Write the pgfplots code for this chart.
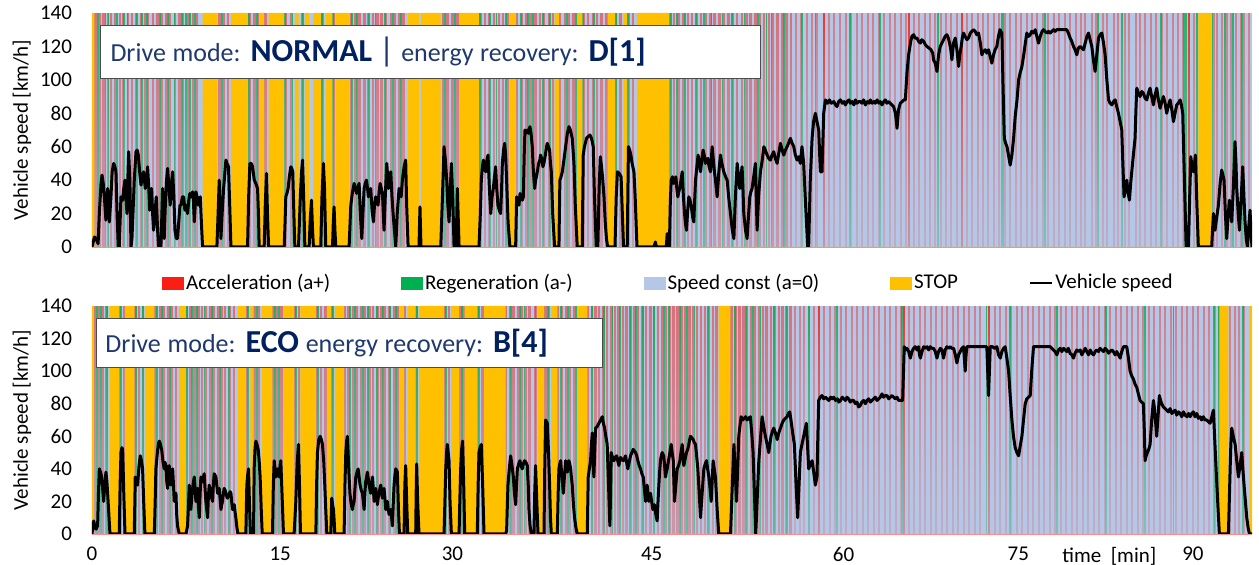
\documentclass[border=0pt]{standalone}
\usepackage{fontspec}
\setmainfont{Carlito}
\usepackage{pgfplots}
\usepackage{pgfplotstable}
\pgfplotsset{compat=1.18}
\usetikzlibrary{fadings}

\definecolor{accred}{RGB}{250,30,20}
\definecolor{reggreen}{RGB}{0,176,80}
\definecolor{cstblue}{RGB}{180,199,231}
\definecolor{stoporange}{RGB}{255,192,0}
\definecolor{navy}{RGB}{0,32,96}
\definecolor{navylight}{RGB}{31,56,110}

\tikzfading[name=fadeup, top color=transparent!100, bottom color=transparent!0]

% speed, top chart (NORMAL / D[1])
\pgfplotstableread{
t v
0 0
0.1 3
0.2 6
0.33 5
0.5 2
0.6 20
0.74 38
0.82 43
0.92 38
1.01 30
1.14 16
1.28 35
1.35 28
1.42 15
1.55 30
1.65 45
1.77 50
1.88 48
1.96 45
2.05 20
2.15 0
2.23 0
2.37 30
2.51 28
2.6 35
2.7 40
2.78 30
2.86 20
2.93 40
3.0 57
3.1 40
3.19 0
3.27 5
3.38 25
3.46 40
3.6 57
3.7 58
3.79 55
3.9 45
4.01 37
4.1 42
4.22 45
4.36 35
4.45 38
4.55 48
4.65 35
4.72 22
4.8 30
4.88 35
4.96 20
5.04 10
5.15 20
5.26 30
5.37 10
5.45 0
5.64 0
5.78 35
5.85 20
5.91 5
6.0 25
6.1 40
6.19 47
6.3 35
6.4 25
6.5 38
6.6 45
6.7 30
6.79 10
6.9 5
7.0 5
7.1 15
7.2 25
7.28 25
7.4 30
7.5 30
7.6 22
7.69 25
7.82 20
7.92 28
8.01 32
8.12 30
8.23 33
8.3 28
8.37 15
8.45 25
8.5 33
8.6 30
8.69 25
8.78 28
8.86 30
8.95 15
9.05 0
10.22 0
10.32 20
10.41 40
10.5 20
10.55 5
10.65 20
10.77 35
10.88 45
10.96 52
11.05 50
11.17 48
11.27 25
11.37 0
12.73 0
12.82 30
12.92 50
13.03 50
13.14 48
13.28 40
13.41 38
13.55 35
13.62 20
13.68 0
14.09 0
14.18 25
14.28 44
14.36 20
14.45 0
15.73 0
15.8 15
15.86 30
15.95 32
16.05 35
16.15 42
16.27 48
16.35 47
16.43 45
16.52 20
16.6 0
16.9 0
17.05 30
17.15 45
17.23 52
17.32 30
17.42 0
17.77 0
17.85 15
17.96 28
18.05 10
18.12 0
18.72 0
18.82 30
18.94 50
19.03 35
19.13 0
19.68 0
19.75 15
19.81 24
19.88 10
19.95 0
21.04 0
21.18 25
21.3 32
21.45 38
21.55 35
21.67 32
21.76 36
21.86 38
21.96 20
22.08 5
22.17 20
22.27 35
22.36 38
22.46 40
22.55 35
22.62 30
22.72 33
22.81 35
22.92 22
23.03 15
23.12 25
23.22 30
23.32 28
23.41 25
23.5 33
23.58 38
23.68 35
23.77 32
23.84 20
23.9 10
24.0 30
24.12 50
24.2 42
24.26 35
24.36 40
24.45 45
24.55 30
24.64 20
24.75 10
24.86 0
24.98 20
25.13 35
25.3 30
25.4 40
25.54 48
25.67 52
25.75 25
25.87 0
26.76 0
26.84 24
26.92 0
28.54 0
28.68 30
28.81 60
28.92 52
29.03 40
29.12 25
29.22 15
29.32 35
29.41 50
29.52 30
29.63 0
29.8 0
29.9 35
30.0 10
30.04 0
31.67 0
31.78 20
31.86 40
31.95 48
32.03 52
32.12 48
32.22 45
32.32 52
32.41 55
32.52 35
32.63 20
32.74 30
32.84 35
32.94 42
33.03 48
33.12 35
33.22 25
33.33 22
33.44 20
33.52 35
33.58 50
33.68 58
33.77 62
33.85 55
33.93 40
34.05 15
34.2 0
34.67 0
34.75 30
34.85 28
34.94 25
35.03 32
35.13 30
35.22 28
35.3 30
35.37 55
35.43 70
35.52 68
35.62 70
35.72 68
35.84 72
35.93 68
36.03 60
36.1 48
36.17 40
36.23 35
36.3 40
36.37 42
36.44 45
36.55 50
36.65 52
36.71 55
36.8 53
36.9 48
36.98 50
37.1 55
37.2 60
37.26 62
37.35 60
37.45 58
37.52 50
37.59 45
37.7 20
37.86 0
38.21 0
38.29 40
38.38 42
38.49 45
38.62 52
38.76 60
38.9 68
39.03 72
39.15 70
39.3 65
39.37 58
39.44 50
39.55 25
39.71 0
40.12 0
40.2 55
40.3 60
40.47 65
40.6 66
40.75 67
40.88 65
41.02 60
41.12 30
41.27 0
41.4 0
41.5 35
41.6 54
41.7 48
41.8 40
41.9 30
42.0 15
42.1 5
42.2 0
42.8 0
42.9 30
43.0 45
43.15 44
43.3 42
43.4 20
43.5 0
43.8 0
43.9 60
44.0 58
44.1 55
44.2 50
44.35 45
44.45 30
44.5 20
44.6 0
46.0 0
46.1 3
46.2 0
47.0 0
47.07 8
47.15 0
47.25 0
47.32 25
47.4 40
47.5 42
47.62 38
47.7 40
47.78 42
47.86 35
47.94 30
48.02 33
48.1 35
48.2 40
48.3 45
48.4 30
48.49 20
48.57 14
48.65 10
48.75 22
48.84 30
48.94 28
49.03 25
49.15 18
49.25 15
49.32 28
49.39 40
49.5 48
49.6 55
49.7 50
49.8 45
49.9 52
50.01 58
50.1 55
50.2 50
50.3 52
50.4 53
50.5 48
50.61 45
50.68 52
50.75 60
50.85 52
50.94 45
51.05 38
51.16 30
51.3 45
51.43 55
51.55 50
51.7 45
51.85 42
51.98 40
52.1 30
52.25 20
52.4 10
52.53 5
52.65 30
52.8 50
52.9 42
53.01 35
53.1 42
53.2 48
53.27 35
53.34 20
53.48 10
53.61 5
53.72 18
53.83 30
53.92 33
54.02 35
54.15 42
54.29 50
54.36 30
54.43 10
54.55 30
54.7 45
54.85 52
54.98 60
55.1 58
55.25 55
55.38 53
55.52 52
55.65 55
55.79 57
55.92 53
56.07 50
56.2 56
56.34 62
56.48 58
56.61 55
56.75 58
56.88 60
57.0 62
57.15 65
57.3 62
57.43 60
57.56 55
57.7 52
57.83 54
57.97 50
58.1 60
58.24 50
58.4 25
58.57 0
58.65 0
58.78 40
58.93 65
59.05 75
59.2 80
59.33 75
59.47 70
59.55 55
59.61 45
59.74 45
59.82 65
59.88 80
60.02 88
60.2 86
60.35 88
60.5 86
60.7 87
60.85 85
60.97 84
61.1 87
61.25 88
61.4 86
61.55 87
61.65 85
61.8 87
61.95 88
62.06 86
62.2 87
62.35 85
62.47 88
62.6 86
62.75 87
62.88 87
63.0 86
63.15 88
63.29 85
63.45 87
63.6 86
63.7 88
63.85 86
64.0 87
64.1 86
64.25 88
64.4 86
64.51 87
64.65 85
64.8 87
64.92 88
65.05 86
65.2 87
65.33 86
65.45 85
65.6 84
65.75 80
65.88 71
66.0 82
66.15 86
66.3 87
66.45 88
66.56 88
66.7 105
66.83 115
67.0 123
67.1 126
67.24 127
67.35 125
67.51 125
67.65 123
67.79 122
67.9 124
68.06 123
68.2 121
68.33 120
68.5 119
68.66 118
68.8 116
68.87 112
69.0 110
69.15 105
69.28 115
69.42 120
69.55 122
69.69 124
69.82 126
69.96 127
70.08 125
70.18 122
70.28 118
70.37 112
70.5 122
70.65 125
70.78 118
70.92 108
71.02 115
71.13 120
71.22 125
71.32 128
71.45 126
71.6 124
71.73 125
71.88 128
72.0 129
72.14 130
72.28 129
72.4 127
72.55 128
72.7 122
72.82 115
72.95 117
73.1 118
73.23 116
73.37 118
73.5 114
73.64 110
73.78 115
73.9 118
74.05 120
74.18 126
74.3 130
74.46 128
74.56 95
74.66 65
74.77 62
74.88 60
75.0 55
75.14 49
75.28 55
75.42 65
75.55 78
75.7 88
75.83 100
75.95 104
76.1 108
76.25 115
76.38 122
76.5 128
76.64 126
76.78 127
76.9 129
77.05 128
77.19 130
77.32 126
77.46 122
77.6 126
77.75 129
77.87 130
78.0 129
78.15 128
78.28 129
78.41 128
78.55 129
78.7 130
78.82 129
78.96 130
79.1 130
79.3 130
79.5 130
79.65 130
79.77 130
79.9 128
80.05 125
80.18 123
80.32 120
80.45 118
80.59 115
80.72 119
80.87 120
81.0 119
81.14 118
81.28 122
81.42 126
81.55 128
81.68 124
81.82 120
81.95 112
82.09 105
82.23 115
82.37 125
82.5 127
82.64 128
82.78 122
82.91 115
83.05 100
83.19 88
83.32 86
83.46 85
83.6 87
83.73 88
83.86 84
84.0 80
84.14 75
84.27 70
84.36 50
84.46 30
84.58 35
84.68 40
84.8 32
84.9 28
85.0 38
85.09 45
85.22 55
85.36 65
85.43 82
85.5 95
85.63 92
85.77 90
85.9 93
86.04 92
86.18 89
86.32 88
86.45 92
86.59 95
86.72 90
86.86 85
87.0 91
87.13 95
87.27 88
87.41 83
87.55 87
87.68 90
87.82 86
87.95 80
88.1 85
88.23 88
88.37 82
88.5 75
88.63 80
88.77 85
88.9 86
89.05 88
89.15 85
89.26 80
89.4 40
89.54 0
89.73 0
89.83 30
89.92 54
90.03 48
90.13 45
90.22 50
90.3 55
90.42 25
90.54 0
91.63 0
91.77 20
91.9 10
92.05 18
92.18 25
92.32 38
92.45 46
92.55 43
92.64 40
92.75 20
92.86 5
92.97 18
93.08 28
93.18 22
93.27 15
93.4 35
93.54 63
93.62 50
93.68 35
93.8 20
93.9 10
94.05 30
94.17 48
94.27 30
94.36 15
94.46 5
94.55 0
94.66 12
94.77 22
94.85 8
94.93 0
}\speedtop

% speed, bottom chart (ECO / B[4])
\pgfplotstableread{
t v
0 0
0.08 5
0.14 8
0.25 4
0.33 3
0.46 5
0.53 25
0.6 40
0.7 38
0.79 35
0.87 28
0.95 20
1.05 30
1.14 38
1.22 32
1.28 25
1.38 12
1.47 0
2.23 0
2.3 30
2.37 50
2.45 53
2.51 52
2.6 25
2.7 0
3.46 0
3.54 35
3.63 33
3.73 30
3.85 42
3.95 48
4.05 45
4.14 40
4.23 20
4.33 0
5.1 0
5.17 20
5.23 40
5.35 50
5.45 56
5.51 57
5.6 55
5.7 52
5.8 45
5.91 40
5.98 44
6.05 42
6.12 32
6.19 28
6.25 38
6.32 42
6.4 35
6.46 30
6.53 38
6.6 40
6.67 30
6.73 20
6.8 24
6.87 25
6.93 12
7.0 5
7.14 0
7.69 0
7.82 5
7.9 18
7.96 30
8.02 22
8.09 15
8.16 22
8.23 28
8.3 32
8.37 35
8.44 28
8.5 20
8.57 24
8.64 28
8.7 18
8.78 10
8.85 25
8.91 35
8.98 33
9.05 32
9.12 35
9.18 37
9.25 28
9.32 20
9.4 14
9.46 10
9.52 22
9.59 30
9.66 28
9.73 25
9.8 22
9.87 20
9.93 30
10.0 37
10.07 36
10.14 35
10.21 30
10.28 25
10.35 27
10.41 28
10.48 22
10.55 15
10.62 18
10.68 20
10.75 25
10.82 28
10.89 27
10.96 25
11.03 23
11.09 22
11.2 24
11.3 26
11.37 25
11.43 20
11.5 15
11.57 16
11.64 18
11.7 14
11.77 10
11.86 4
11.94 0
12.59 0
12.67 30
12.74 36
12.81 40
12.88 20
12.97 0
13.22 0
13.27 40
13.34 52
13.41 57
13.5 55
13.6 52
13.68 45
13.76 35
13.85 15
13.93 0
14.77 0
14.84 30
14.91 45
14.98 40
15.04 35
15.11 38
15.18 40
15.25 37
15.32 35
15.39 42
15.45 45
15.55 25
15.67 0
16.54 0
16.61 10
16.68 20
16.8 45
16.9 55
16.98 30
17.06 0
18.32 0
18.38 30
18.45 50
18.56 58
18.67 60
18.77 58
18.86 55
18.96 45
19.05 30
19.13 15
19.22 0
19.54 0
19.62 22
19.69 18
19.76 15
19.82 8
19.87 0
20.63 0
20.7 30
20.77 50
20.84 57
20.9 60
20.97 48
21.04 35
21.11 25
21.18 20
21.25 17
21.31 15
21.38 18
21.45 20
21.52 28
21.59 35
21.69 38
21.78 40
21.86 35
21.94 30
22.03 27
22.13 25
22.2 20
22.27 15
22.33 25
22.4 32
22.47 35
22.54 38
22.61 34
22.68 30
22.75 27
22.81 25
22.88 30
22.95 35
23.02 28
23.09 20
23.15 24
23.22 28
23.29 22
23.36 18
23.42 22
23.49 25
23.56 28
23.63 30
23.7 26
23.77 22
23.84 25
23.9 28
23.97 22
24.04 15
24.11 18
24.18 20
24.25 15
24.31 12
24.38 14
24.45 15
24.52 10
24.58 5
24.65 18
24.72 30
24.79 36
24.86 40
24.93 39
24.99 38
25.08 15
25.16 0
25.54 0
25.6 30
25.67 42
25.75 20
25.84 0
26.49 0
26.53 25
26.57 43
26.65 20
26.76 0
28.81 0
28.88 20
28.95 40
29.02 50
29.08 55
29.15 50
29.22 45
29.3 20
29.41 0
30.04 0
30.1 20
30.17 40
30.25 52
30.33 57
30.42 30
30.5 0
31.53 0
31.6 30
31.67 50
31.76 53
31.86 55
31.97 30
32.08 0
33.85 0
33.93 2
34.04 30
34.15 40
34.26 48
34.37 42
34.48 35
34.57 25
34.67 18
34.74 30
34.81 40
34.92 43
35.02 45
35.11 42
35.21 40
35.3 43
35.4 45
35.51 44
35.62 42
35.7 30
35.76 15
35.85 5
35.95 0
36.17 0
36.23 25
36.3 42
36.4 20
36.5 0
36.99 0
37.05 40
37.12 70
37.19 69
37.26 68
37.36 50
37.45 30
37.52 10
37.59 0
38.08 0
38.15 25
38.21 40
38.28 43
38.35 45
38.46 35
38.57 25
38.66 35
38.76 45
38.83 42
38.9 38
38.96 42
39.03 45
39.1 43
39.17 40
39.23 35
39.3 30
39.4 18
39.49 10
39.6 4
39.71 0
40.53 0
40.61 35
40.7 40
40.8 45
40.87 55
40.94 62
41.0 48
41.07 35
41.14 50
41.21 65
41.35 66
41.48 68
41.62 70
41.76 72
41.85 68
41.95 65
42.05 60
42.16 55
42.27 30
42.38 5
42.44 25
42.49 50
42.6 47
42.71 45
42.82 47
42.93 48
43.02 45
43.12 42
43.18 45
43.25 47
43.36 46
43.47 45
43.56 46
43.66 48
43.75 44
43.85 40
43.96 44
44.07 48
44.18 50
44.29 52
44.38 51
44.48 50
44.58 48
44.67 45
44.78 42
44.89 40
45.0 37
45.11 35
45.2 28
45.3 20
45.37 25
45.43 30
45.5 25
45.57 20
45.64 22
45.71 25
45.8 20
45.9 15
45.96 16
46.03 18
46.14 12
46.25 8
46.32 20
46.39 30
46.45 38
46.52 45
46.59 48
46.66 50
46.72 49
46.79 48
46.86 42
46.93 35
47.0 38
47.07 40
47.18 45
47.29 50
47.35 53
47.4 55
47.48 50
47.57 45
47.62 32
47.67 20
47.78 30
47.89 40
48.0 42
48.11 45
48.2 50
48.3 55
48.36 48
48.43 42
48.54 46
48.65 50
48.75 52
48.84 55
48.91 58
48.98 60
49.09 59
49.2 58
49.3 56
49.39 55
49.48 48
49.58 40
49.69 25
49.8 10
49.93 25
50.07 40
50.18 43
50.29 45
50.38 40
50.48 35
50.58 28
50.67 20
50.75 32
50.83 45
50.92 40
51.02 35
51.09 25
51.16 15
51.22 8
51.29 0
52.25 0
52.4 30
52.53 55
52.64 38
52.74 20
52.84 40
52.93 60
53.02 66
53.12 72
53.25 70
53.37 71
53.49 72
53.61 70
53.74 71
53.88 72
53.99 62
54.1 50
54.21 25
54.32 0
54.44 22
54.57 45
54.7 58
54.84 72
54.97 66
55.11 60
55.25 55
55.38 50
55.47 55
55.57 60
55.68 63
55.79 65
55.93 62
56.07 58
56.2 62
56.34 65
56.48 68
56.61 70
56.75 71
56.88 72
56.99 74
57.1 75
57.2 70
57.29 65
57.38 60
57.48 55
57.62 30
57.75 10
57.86 30
57.97 50
58.1 55
58.24 60
58.35 64
58.46 68
58.55 55
58.65 40
58.8 43
58.93 45
59.06 38
59.2 30
59.27 33
59.33 35
59.4 60
59.47 82
59.6 84
59.74 85
59.88 83
60.02 84
60.15 83
60.3 82
60.45 84
60.58 83
60.7 84
60.85 82
61.0 83
61.12 81
61.25 82
61.4 84
61.52 83
61.65 82
61.79 84
61.92 83
62.05 81
62.2 82
62.33 82
62.47 80
62.6 81
62.74 78
62.88 79
63.0 81
63.15 82
63.29 80
63.42 82
63.56 83
63.7 81
63.83 82
63.97 83
64.1 84
64.24 82
64.38 83
64.51 84
64.65 86
64.78 84
64.92 85
65.06 85
65.2 83
65.33 84
65.47 85
65.6 84
65.74 83
65.88 84
66.01 82
66.15 82
66.34 82
66.47 115
66.58 113
66.69 114
66.83 112
66.97 108
67.1 112
67.24 114
67.38 115
67.51 113
67.65 115
67.72 110
67.79 108
67.92 112
68.06 115
68.2 114
68.33 115
68.47 113
68.6 115
68.74 114
68.87 114
69.01 112
69.15 108
69.28 112
69.42 114
69.55 113
69.69 108
69.82 113
69.96 115
70.1 114
70.24 115
70.37 114
70.51 114
70.65 110
70.78 105
70.92 110
71.05 112
71.18 114
71.32 115
71.39 108
71.46 100
71.53 110
71.6 115
71.8 115
72.0 115
72.2 115
72.4 115
72.6 115
72.8 115
73.0 115
73.23 115
73.3 100
73.37 85
73.44 100
73.51 115
73.7 115
73.85 114
74.05 115
74.19 110
74.33 108
74.46 112
74.6 114
74.73 115
74.87 108
75.01 100
75.14 85
75.28 70
75.41 60
75.55 53
75.69 50
75.83 48
75.96 54
76.1 60
76.23 70
76.37 80
76.5 83
76.64 84
76.78 85
76.9 100
77.05 115
77.3 115
77.6 115
77.9 115
78.15 115
78.41 115
78.55 114
78.69 113
78.82 112
78.96 110
79.1 113
79.24 114
79.37 112
79.51 114
79.64 113
79.77 112
79.9 114
80.04 111
80.18 110
80.32 108
80.45 111
80.59 113
80.73 112
80.87 113
81.0 110
81.14 112
81.28 114
81.41 112
81.55 110
81.69 113
81.82 111
81.96 110
82.1 112
82.23 113
82.37 112
82.5 114
82.64 113
82.78 112
82.91 114
83.05 113
83.19 111
83.32 112
83.46 113
83.59 112
83.73 110
83.87 112
84.0 110
84.14 108
84.27 112
84.41 115
84.55 115
84.68 115
84.82 108
84.95 100
85.09 97
85.23 95
85.36 92
85.5 90
85.63 86
85.77 82
85.9 81
86.04 80
86.11 65
86.18 45
86.27 48
86.37 50
86.48 52
86.59 55
86.72 70
86.86 82
86.93 78
87.0 72
87.07 66
87.13 60
87.24 72
87.35 85
87.45 82
87.54 80
87.68 78
87.82 77
87.95 76
88.09 75
88.23 77
88.37 74
88.5 75
88.64 76
88.77 73
88.91 75
89.05 74
89.18 72
89.32 75
89.46 73
89.6 72
89.73 74
89.87 72
90.0 74
90.13 75
90.27 72
90.41 74
90.54 71
90.68 72
90.81 70
90.95 72
91.08 70
91.22 70
91.36 69
91.5 68
91.64 72
91.77 76
91.88 58
91.99 40
92.12 20
92.26 0
93.0 0
93.07 20
93.14 40
93.2 55
93.27 65
93.4 60
93.55 55
93.68 45
93.82 35
93.95 42
94.09 50
94.18 40
94.28 30
94.39 20
94.5 10
94.61 4
94.72 0
94.93 0
}\speedbot

\pgfplotsset{
  speedaxis/.style={
    scale only axis, width=580pt,
    xmin=0, xmax=94.93, ymin=0, ymax=140,
    ytick={0,20,...,140},
    axis x line*=bottom, axis y line*=left,
    x axis line style={draw=red!45, line width=0.7pt, -},
    y axis line style={draw=none},
    tick style={draw=none},
    /pgf/number format/assume math mode=true,
    tick label style={font=\fontsize{10.5}{12}\selectfont},
    yticklabel style={xshift=-6.5pt},
    ylabel={Vehicle speed [km/h]},
    ylabel style={font=\fontsize{10.5}{12}\selectfont, at={(axis description cs:-0.0603,0.5)}, anchor=center},
  },
  accstripes/.style={ycomb, no markers, draw=accred, line width=1.2pt, draw opacity=0.5, forget plot},
  acclight/.style={ycomb, no markers, draw=accred, line width=1pt, draw opacity=0.42, forget plot},
  accstrong/.style={ycomb, no markers, draw=accred, line width=1pt, draw opacity=0.85, forget plot},
  regstripes/.style={ycomb, no markers, draw=reggreen, line width=0.9pt, draw opacity=0.8, forget plot},
  stopblocks/.style={const plot, draw=none, fill=stoporange, forget plot},
  basefill/.style={draw=none, fill=cstblue, forget plot},
  fadefill/.style={draw=none, fill=cstblue, fill opacity=0.45, path fading=fadeup, forget plot},
  fadelate/.style={draw=none, fill=cstblue, fill opacity=0.35, path fading=fadeup, forget plot},
  speedline/.style={black, line width=1.5pt, line join=round, no markers, forget plot},
}

\begin{document}
\begin{tikzpicture}
\useasboundingbox (0,0) rectangle (629.5pt,282.5pt);

% ---------------- top chart ----------------
\begin{axis}[speedaxis, height=117pt, at={(46pt,159pt)}, anchor=south west, xtick=\empty]
\addplot[basefill] coordinates {(0,140) (94.93,140)} \closedcycle;
\addplot[accstripes] coordinates {
(0.3,140)(0.65,140)(0.95,140)(1.3,140)(1.55,140)(1.9,140)(2.3,140)(2.55,140)(2.95,140)(3.25,140)
(3.6,140)(4.0,140)(4.35,140)(4.6,140)(5.0,140)(5.35,140)(5.7,140)(6.05,140)(6.35,140)(6.8,140)
(7.15,140)(7.45,140)(7.9,140)(8.25,140)(8.6,140)(10.45,140)(10.8,140)(11.15,140)(12.9,140)(13.3,140)
(13.6,140)(14.2,140)(15.9,140)(16.3,140)(17.2,140)(17.6,140)(18.85,140)(19.8,140)(21.2,140)(21.55,140)
(21.9,140)(22.3,140)(22.6,140)(23.0,140)(23.35,140)(23.7,140)(24.05,140)(24.45,140)(24.8,140)(25.15,140)
(25.5,140)(28.7,140)(29.1,140)(29.5,140)(29.9,140)(31.8,140)(32.15,140)(32.5,140)(32.9,140)(33.3,140)
(33.65,140)(34.0,140)(34.8,140)(35.2,140)(35.55,140)(35.9,140)(36.3,140)(36.65,140)(37.0,140)(37.4,140)
(37.75,140)(38.3,140)(38.7,140)(39.05,140)(39.4,140)(40.25,140)(40.6,140)(41.0,140)(41.35,140)(41.7,140)
(42.1,140)(42.9,140)(43.25,140)(43.9,140)(44.25,140)(47.3,140)(47.65,140)(48.0,140)(48.4,140)(48.75,140)
(49.1,140)(49.5,140)(49.85,140)(50.25,140)(50.6,140)(50.95,140)(51.35,140)(51.7,140)(52.1,140)(52.45,140)
(52.8,140)(53.2,140)(53.55,140)(53.9,140)(54.3,140)(54.65,140)(55.0,140)(55.4,140)(55.75,140)(56.1,140)
(56.5,140)(56.85,140)(57.2,140)};
\addplot[acclight] coordinates {
(57.6,140)(58.0,140)(58.5,140)(58.9,140)(59.35,140)(60.3,140)(60.75,140)(61.2,140)(61.7,140)(62.1,140)
(62.6,140)(63.0,140)(63.5,140)(63.9,140)(64.4,140)(64.8,140)(65.3,140)(65.7,140)(66.2,140)(66.6,140)
(67.3,140)(67.7,140)(68.2,140)(68.6,140)(69.0,140)(69.5,140)(69.9,140)(70.3,140)(70.8,140)(71.6,140)
(72.0,140)(72.5,140)(72.9,140)(73.3,140)(73.8,140)(74.2,140)(74.7,140)(75.1,140)(75.6,140)(76.0,140)
(76.5,140)(76.9,140)(77.3,140)(77.8,140)(78.2,140)(78.7,140)(79.1,140)(79.6,140)(80.0,140)(80.5,140)
(80.9,140)(81.3,140)(81.8,140)(82.2,140)(82.7,140)(83.1,140)(83.6,140)(84.0,140)(84.5,140)(84.9,140)
(85.4,140)(85.8,140)(86.2,140)(86.7,140)(87.1,140)(87.6,140)(88.0,140)(88.5,140)(88.9,140)(89.3,140)
(90.2,140)(91.8,140)(92.1,140)(92.5,140)(92.9,140)(93.2,140)(93.6,140)(94.0,140)(94.3,140)(94.7,140)};
\addplot[accstrong] coordinates {(59.9,140)(66.85,140)(71.2,140)(89.8,140)};
\addplot[regstripes] coordinates {
(0.5,140)(1.1,140)(1.35,140)(2.05,140)(2.6,140)(2.9,140)(3.65,140)(4.1,140)(4.5,140)(5.55,140)(6.2,140)
(6.75,140)(7.35,140)(7.7,140)(8.05,140)(8.4,140)(10.65,140)(12.85,140)(13.5,140)(15.8,140)(16.4,140)
(17.3,140)(18.8,140)(19.7,140)(21.3,140)(21.7,140)(22.7,140)(23.2,140)(24.0,140)(24.6,140)(25.3,140)
(28.9,140)(29.7,140)(31.75,140)(32.6,140)(33.1,140)(33.9,140)(35.1,140)(35.7,140)(36.1,140)(36.9,140)
(37.5,140)(38.9,140)(39.6,140)(40.2,140)(41.1,140)(42.9,140)(43.85,140)(47.35,140)(47.9,140)(48.5,140)
(49.4,140)(50.1,140)(50.7,140)(51.6,140)(52.4,140)(53.4,140)(54.5,140)(55.2,140)(55.6,140)(56.6,140)
(58.1,140)(59.2,140)(62.0,140)(64.5,140)(69.2,140)(74.45,140)(74.55,140)(78.0,140)(82.3,140)(84.3,140)
(87.5,140)(89.35,140)(89.5,140)(90.45,140)(91.7,140)(92.7,140)(93.4,140)(94.1,140)};
\addplot[fadefill] coordinates {(0,140) (94.93,140)} \closedcycle;
\addplot[fadelate] coordinates {(57.4,140) (89.3,140)} \closedcycle;
\addplot[stopblocks] coordinates {
(0,140)(0.2,0)(9.05,140)(10.22,0)(11.37,140)(12.73,0)(13.68,140)(14.09,0)(14.45,140)(15.73,0)
(16.6,140)(16.9,0)(17.42,140)(17.77,0)(18.12,140)(18.72,0)(19.13,140)(19.68,0)(19.95,140)(21.04,0)
(25.87,140)(26.76,0)(26.92,140)(28.54,0)(30.04,140)(31.67,0)(34.2,140)(34.67,0)(37.86,140)(38.21,0)
(39.71,140)(40.12,0)(42.2,140)(42.8,0)(43.5,140)(43.8,0)(44.6,140)(47.2,0)(90.54,140)(91.63,0)} \closedcycle;
\addplot[speedline] table[x=t, y=v] {\speedtop};
\node[draw=black!70, line width=0.5pt, fill=white, anchor=north west, text width=320pt,
  minimum height=26.5pt, inner xsep=5pt, inner ysep=0pt, text=navylight]
  at (rel axis cs:0.0069,0.949)
  {\fontsize{13}{15}\selectfont Drive mode: {\fontsize{16}{16}\selectfont\bfseries\color{navy}NORMAL}
   {\fontsize{17}{17}\selectfont\textbar} energy recovery: {\fontsize{16}{16}\selectfont\bfseries\color{navy}D[1]}};
\end{axis}

% ---------------- bottom chart ----------------
\begin{axis}[speedaxis, height=114pt, at={(46pt,15.5pt)}, anchor=south west,
  xtick={0,15.4,29.5,45.8,61.5,75.8,90.1},
  xticklabels={0,15,30,45,60,75,90},
  xticklabel style={yshift=-3pt},
  xlabel={time\ \ [min]},
  xlabel style={font=\fontsize{10.5}{12}\selectfont, at={(axis description cs:0.877,0)}, anchor=north, yshift=-3pt},
  legend columns=5,
  legend cell align=left,
  legend style={at={(0.497,1.101)}, anchor=center, draw=none, fill=none,
    font=\fontsize{10.5}{12}\selectfont, inner sep=0pt,
    nodes={inner sep=1pt},
    /tikz/every even column/.append style={column sep=34.5pt}},
]
\addplot[basefill] coordinates {(0,140) (94.93,140)} \closedcycle;
\addplot[accstripes] coordinates {
(0.25,140)(0.55,140)(0.9,140)(1.2,140)(2.3,140)(2.6,140)(3.55,140)(3.85,140)(4.15,140)(5.2,140)
(5.55,140)(5.85,140)(6.2,140)(6.5,140)(6.85,140)(7.75,140)(8.05,140)(8.4,140)(8.7,140)(9.0,140)
(9.35,140)(9.65,140)(9.95,140)(10.3,140)(10.6,140)(10.9,140)(11.25,140)(11.6,140)(12.7,140)(13.3,140)
(13.65,140)(14.85,140)(15.15,140)(15.5,140)(16.6,140)(16.95,140)(18.4,140)(18.75,140)(19.1,140)(19.65,140)
(20.7,140)(21.0,140)(21.35,140)(21.7,140)(22.0,140)(22.35,140)(22.7,140)(23.0,140)(23.35,140)(23.7,140)
(24.0,140)(24.35,140)(24.7,140)(25.0,140)(25.6,140)(26.55,140)(28.85,140)(29.2,140)(30.15,140)(30.4,140)
(31.6,140)(31.95,140)(33.9,140)(34.2,140)(34.5,140)(34.85,140)(35.15,140)(35.5,140)(35.8,140)(36.3,140)
(37.1,140)(37.4,140)(38.15,140)(38.45,140)(38.8,140)(39.1,140)(39.45,140)(40.6,140)(40.9,140)(41.2,140)
(41.5,140)(41.85,140)(42.15,140)(42.5,140)(42.8,140)(43.1,140)(43.45,140)(43.75,140)(44.1,140)(44.4,140)
(44.7,140)(45.05,140)(45.35,140)(45.7,140)(46.0,140)(46.3,140)(46.65,140)(46.95,140)(47.3,140)(47.6,140)
(47.9,140)(48.25,140)(48.55,140)(48.9,140)(49.2,140)(49.5,140)(49.85,140)(50.15,140)(50.5,140)(50.8,140)
(51.1,140)(52.35,140)(52.65,140)(53.0,140)(53.3,140)(53.6,140)(53.95,140)(54.25,140)(54.6,140)(54.9,140)
(55.2,140)(55.55,140)(55.85,140)(56.2,140)(56.5,140)(56.8,140)(57.15,140)};
\addplot[acclight] coordinates {
(57.5,140)(57.9,140)(58.3,140)(58.7,140)(59.1,140)(59.9,140)(60.4,140)(60.8,140)(61.3,140)(61.7,140)
(62.2,140)(62.6,140)(63.1,140)(63.5,140)(64.0,140)(64.4,140)(64.9,140)(65.3,140)(65.8,140)(66.2,140)
(66.9,140)(67.3,140)(67.8,140)(68.2,140)(68.7,140)(69.1,140)(69.6,140)(70.0,140)(70.5,140)(70.9,140)
(71.4,140)(71.8,140)(72.3,140)(72.7,140)(73.9,140)(74.3,140)(74.8,140)(75.2,140)(75.7,140)(76.1,140)
(76.6,140)(77.0,140)(77.5,140)(77.9,140)(78.4,140)(78.8,140)(79.3,140)(79.7,140)(80.2,140)(80.6,140)
(81.1,140)(81.5,140)(82.0,140)(82.4,140)(82.9,140)(83.3,140)(83.8,140)(84.2,140)(84.7,140)(85.1,140)
(85.6,140)(86.0,140)(86.5,140)(86.9,140)(87.4,140)(87.8,140)(88.3,140)(88.7,140)(89.2,140)(89.6,140)
(90.1,140)(90.5,140)(91.0,140)(91.4,140)(91.9,140)(92.2,140)(93.1,140)(93.5,140)(93.9,140)(94.3,140)};
\addplot[accstrong] coordinates {(59.5,140)(66.42,140)(73.42,140)};
\addplot[regstripes] coordinates {
(0.4,140)(0.75,140)(1.25,140)(2.4,140)(3.6,140)(4.2,140)(5.3,140)(5.7,140)(6.4,140)(7.8,140)(8.2,140)
(8.6,140)(9.2,140)(9.8,140)(10.45,140)(11.2,140)(12.75,140)(13.5,140)(15.0,140)(15.3,140)(16.7,140)
(18.5,140)(19.7,140)(21.1,140)(21.5,140)(22.2,140)(22.6,140)(23.3,140)(23.8,140)(24.4,140)(24.9,140)
(26.6,140)(29.0,140)(30.3,140)(31.7,140)(34.3,140)(35.0,140)(35.4,140)(36.3,140)(37.3,140)(38.4,140)
(38.95,140)(39.6,140)(40.9,140)(41.9,140)(42.6,140)(43.2,140)(44.0,140)(44.5,140)(45.1,140)(46.0,140)
(46.8,140)(47.2,140)(48.1,140)(48.7,140)(49.3,140)(50.4,140)(52.6,140)(53.5,140)(54.1,140)(54.7,140)
(55.8,140)(56.9,140)(58.7,140)(61.0,140)(66.3,140)(73.2,140)(75.1,140)(79.0,140)(83.0,140)(86.2,140)
(88.5,140)(91.8,140)(92.2,140)(94.2,140)};
\addplot[fadefill] coordinates {(0,140) (94.93,140)} \closedcycle;
\addplot[fadelate] coordinates {(57.4,140) (91.8,140)} \closedcycle;
\addplot[stopblocks] coordinates {
(0,140)(0.14,0)(1.47,140)(2.23,0)(2.7,140)(3.46,0)(4.33,140)(5.1,0)(7.14,140)(7.69,0)
(11.94,140)(12.59,0)(12.97,140)(13.22,0)(13.93,140)(14.77,0)(15.67,140)(16.54,0)(17.06,140)(18.32,0)
(19.22,140)(19.54,0)(19.87,140)(20.63,0)(25.16,140)(25.54,0)(25.84,140)(26.49,0)(26.76,140)(28.81,0)
(29.41,140)(30.04,0)(30.5,140)(31.53,0)(32.08,140)(33.85,0)(36.5,140)(36.99,0)(37.59,140)(38.08,0)
(39.71,140)(40.53,0)(51.29,140)(52.25,0)(92.26,140)(93.0,0)(94.72,140)(94.93,0)} \closedcycle;
\addplot[speedline] table[x=t, y=v] {\speedbot};
\node[draw=black!70, line width=0.5pt, fill=white, anchor=north west, text width=244pt,
  minimum height=24.5pt, inner xsep=4.5pt, inner ysep=0pt, text=navylight]
  at (rel axis cs:0.0034,0.947)
  {\fontsize{13}{15}\selectfont Drive mode: {\fontsize{16}{16}\selectfont\bfseries\color{navy}ECO}
   energy recovery: {\fontsize{16}{16}\selectfont\bfseries\color{navy}B[4]}};
\addlegendimage{legend image code/.code={\fill[accred] (0pt,-3pt) rectangle (10.5pt,3pt);}}
\addlegendentry{Acceleration (a+)}
\addlegendimage{legend image code/.code={\fill[reggreen] (0pt,-3pt) rectangle (10.5pt,3pt);}}
\addlegendentry{Regeneration (a-)}
\addlegendimage{legend image code/.code={\fill[cstblue] (0pt,-3pt) rectangle (10.5pt,3pt);}}
\addlegendentry{Speed const (a=0)}
\addlegendimage{legend image code/.code={\fill[stoporange] (0pt,-3pt) rectangle (10.5pt,3pt);}}
\addlegendentry{STOP}
\addlegendimage{legend image code/.code={\draw[black, line width=1.2pt] (0pt,0pt) -- (11pt,0pt);}}
\addlegendentry{Vehicle speed}
\end{axis}
\end{tikzpicture}
\end{document}
